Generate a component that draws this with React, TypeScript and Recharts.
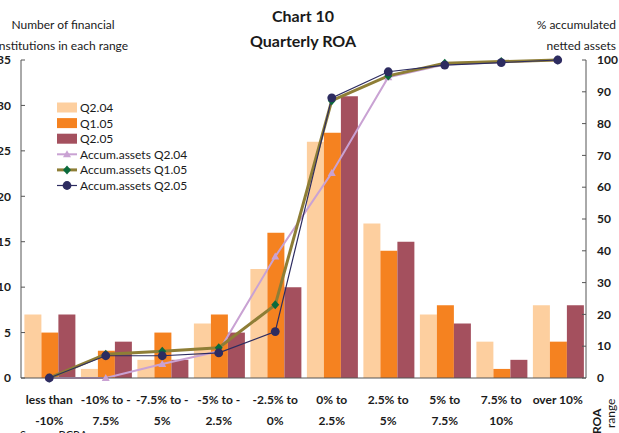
import React from 'react';
import { ComposedChart, Bar, Line, XAxis, YAxis } from 'recharts';

// ROA ranges, each label split over two lines
const rangeTop = ['less than', '-10% to -', '-7.5% to -', '-5% to -', '-2.5% to', '0% to', '2.5% to', '5% to', '7.5% to', 'over 10%'];
const rangeBottom = ['-10%', '7.5%', '5%', '2.5%', '0%', '2.5%', '5%', '7.5%', '10%', ''];

// number of institutions per range
const countQ204 = [7, 1, 2, 6, 12, 26, 17, 7, 4, 8];
const countQ105 = [5, 3, 5, 7, 16, 27, 14, 8, 1, 4];
const countQ205 = [7, 4, 2, 5, 10, 31, 15, 6, 2, 8];

// accumulated netted assets (%)
const accumQ204 = [0, 0, 4.4, 8.4, 38.2, 64.5, 94.6, 98.6, 99.3, 100];
const accumQ105 = [0, 7.5, 8.4, 9.5, 23, 87.2, 95, 99, 99.5, 100];
const accumQ205 = [0, 7, 7, 7.9, 14.6, 88.1, 96.3, 98.4, 99.2, 100];

const leftTicks = [0, 5, 10, 15, 20, 25, 30, 35];
const rightTicks = [0, 10, 20, 30, 40, 50, 60, 70, 80, 90, 100];

const FONT = 'Lato, "Open Sans", sans-serif';

const PEACH = '#FDCF9F';
const ORANGE = '#F58220';
const MAROON = '#A4505E';
const LAVENDER = '#C9A2D3';
const OLIVE = '#8E7E36';
const GREEN = '#0B6A3C';
const NAVY = '#2D2C60';

const data = rangeTop.map((top, i) => ({
  range: top,
  bottom: rangeBottom[i],
  q204: countQ204[i],
  q105: countQ105[i],
  q205: countQ205[i],
  a204: accumQ204[i],
  a105: accumQ105[i],
  a205: accumQ205[i],
}));

const RangeTick = (props: any) => {
  const { x, y, payload, index } = props;
  return (
    <text x={x} y={y} textAnchor="middle" fontFamily={FONT} fontSize={12} fontWeight={700} fill="#1a1a1a">
      <tspan x={x} dy={26}>{payload.value}</tspan>
      <tspan x={x} dy={21}>{rangeBottom[index]}</tspan>
    </text>
  );
};

const Triangle = (props: any) => {
  const { cx, cy, key } = props;
  if (cx == null || cy == null) return <g key={key} />;
  return <path key={key} d={`M${cx},${cy - 4}L${cx + 4},${cy + 3}L${cx - 4},${cy + 3}Z`} fill={LAVENDER} />;
};

const Diamond = (props: any) => {
  const { cx, cy, key } = props;
  if (cx == null || cy == null) return <g key={key} />;
  return <path key={key} d={`M${cx},${cy - 4.5}L${cx + 4},${cy}L${cx},${cy + 4.5}L${cx - 4},${cy}Z`} fill={GREEN} />;
};

const Dot = (props: any) => {
  const { cx, cy, key } = props;
  if (cx == null || cy == null) return <g key={key} />;
  return <circle key={key} cx={cx} cy={cy} r={4.4} fill={NAVY} />;
};

const legendItems = [
  { label: 'Q2.04', kind: 'bar', color: PEACH },
  { label: 'Q1.05', kind: 'bar', color: ORANGE },
  { label: 'Q2.05', kind: 'bar', color: MAROON },
  { label: 'Accum.assets Q2.04', kind: 'line', color: LAVENDER, width: 2, marker: 'triangle' },
  { label: 'Accum.assets Q1.05', kind: 'line', color: OLIVE, width: 3, marker: 'diamond' },
  { label: 'Accum.assets Q2.05', kind: 'line', color: NAVY, width: 1.2, marker: 'circle' },
];

const Overlay = () => (
  <svg width={619} height={433} style={{ position: 'absolute', left: 0, top: 0, pointerEvents: 'none' }}>
    <g fontFamily={FONT} fill="#1a1a1a">
      <text x={303} y={22} textAnchor="middle" fontSize={16} fontWeight={700}>Chart 10</text>
      <text x={303} y={47} textAnchor="middle" fontSize={16} fontWeight={700}>Quarterly ROA</text>
      <text x={63} y={29} textAnchor="middle" fontSize={12}>Number of financial</text>
      <text x={62} y={50} textAnchor="middle" fontSize={12}>institutions in each range</text>
      <text x={616} y={29} textAnchor="end" fontSize={12}>% accumulated</text>
      <text x={616} y={50} textAnchor="end" fontSize={12}>netted assets</text>
      <text x={0} y={0} fontSize={12} fontWeight={700} transform="translate(601,434) rotate(-90)">ROA</text>
      <text x={0} y={0} fontSize={12} transform="translate(615,428) rotate(-90)">range</text>
      <text x={20} y={439} fontSize={11}>Source: BCRA</text>
    </g>
    <g fontFamily={FONT} fontSize={12} fill="#1a1a1a">
      {legendItems.map((item, i) => {
        const cy = 107.5 + i * 15.6;
        return (
          <g key={item.label}>
            {item.kind === 'bar' ? (
              <rect x={57} y={cy - 5} width={20} height={10} fill={item.color} />
            ) : (
              <g>
                <line x1={57} x2={77} y1={cy} y2={cy} stroke={item.color} strokeWidth={item.width} />
                {item.marker === 'triangle' && Triangle({ cx: 67, cy, key: 't' })}
                {item.marker === 'diamond' && Diamond({ cx: 67, cy, key: 'd' })}
                {item.marker === 'circle' && Dot({ cx: 67, cy, key: 'c' })}
              </g>
            )}
            <text x={80} y={cy + 4.5}>{item.label}</text>
          </g>
        );
      })}
    </g>
  </svg>
);

export default function App() {
  return (
    <div style={{ position: 'absolute', left: 0, top: 0, width: 619, height: 433, background: '#fff', overflow: 'hidden' }}>
      <ComposedChart
        width={619}
        height={433}
        data={data}
        margin={{ top: 60, right: 0, bottom: 25, left: 0 }}
        barCategoryGap="6%"
        barGap={0}
      >
        <XAxis
          dataKey="range"
          height={30}
          tickLine={false}
          tickSize={0}
          tickMargin={0}
          interval={0}
          tick={<RangeTick />}
          axisLine={{ stroke: '#555', strokeWidth: 1 }}
        />
        <YAxis
          yAxisId="left"
          orientation="left"
          width={21}
          domain={[0, 35]}
          ticks={leftTicks}
          tickSize={-4}
          tickMargin={14}
          tickLine={{ stroke: '#555' }}
          axisLine={{ stroke: '#555' }}
          tick={{ fontFamily: FONT, fontSize: 12, fontWeight: 700, fill: '#1a1a1a' }}
        />
        <YAxis
          yAxisId="right"
          orientation="right"
          width={33}
          domain={[0, 100]}
          ticks={rightTicks}
          tickSize={-4}
          tickMargin={15}
          tickLine={{ stroke: '#555' }}
          axisLine={{ stroke: '#555' }}
          tick={{ fontFamily: FONT, fontSize: 12, fontWeight: 700, fill: '#1a1a1a' }}
        />
        <Bar yAxisId="left" dataKey="q204" fill={PEACH} isAnimationActive={false} />
        <Bar yAxisId="left" dataKey="q105" fill={ORANGE} isAnimationActive={false} />
        <Bar yAxisId="left" dataKey="q205" fill={MAROON} isAnimationActive={false} />
        <Line yAxisId="right" type="linear" dataKey="a204" stroke={LAVENDER} strokeWidth={2} dot={Triangle} activeDot={false} isAnimationActive={false} />
        <Line yAxisId="right" type="linear" dataKey="a105" stroke={OLIVE} strokeWidth={3} dot={Diamond} activeDot={false} isAnimationActive={false} />
        <Line yAxisId="right" type="linear" dataKey="a205" stroke={NAVY} strokeWidth={1.2} dot={Dot} activeDot={false} isAnimationActive={false} />
      </ComposedChart>
      <Overlay />
    </div>
  );
}
